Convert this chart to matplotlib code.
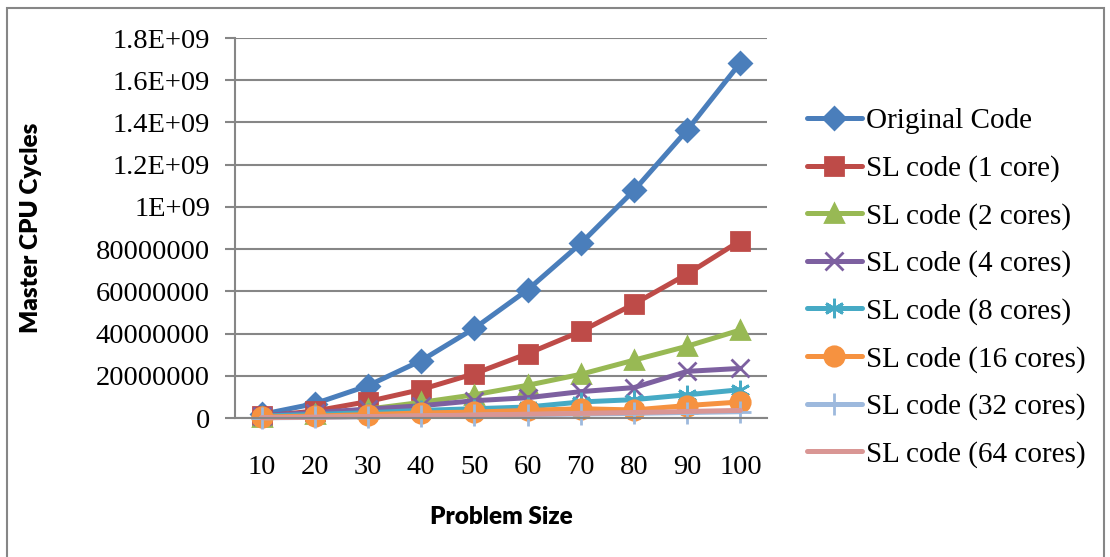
import matplotlib
matplotlib.use('Agg')
from matplotlib import pyplot
from matplotlib.patches import Rectangle

# данные
sizes = [10, 20, 30, 40, 50, 60, 70, 80, 90, 100]
original = [1.7e7, 6.8e7, 1.53e8, 2.72e8, 4.25e8, 6.07e8, 8.27e8, 1.078e9, 1.364e9, 1.683e9]
sl_1 = [8e6, 3.3e7, 7.8e7, 1.35e8, 2.1e8, 3.05e8, 4.1e8, 5.4e8, 6.82e8, 8.4e8]
sl_2 = [5e6, 1.8e7, 4.2e7, 7.4e7, 1.1e8, 1.55e8, 2.07e8, 2.74e8, 3.4e8, 4.17e8]
sl_4 = [1.1e7, 2.6e7, 4.2e7, 5.8e7, 8.2e7, 9.6e7, 1.25e8, 1.44e8, 2.21e8, 2.35e8]
sl_8 = [9e6, 1.7e7, 2.5e7, 3.6e7, 4.4e7, 5.2e7, 7.6e7, 8.7e7, 1.1e8, 1.34e8]
sl_16 = [5e6, 9e6, 1.6e7, 2.4e7, 2.8e7, 3.6e7, 4.4e7, 3.8e7, 5.9e7, 7.6e7]
sl_32 = [1e6, 3e6, 6e6, 9e6, 1.3e7, 1.6e7, 1.9e7, 2.2e7, 2.6e7, 3.0e7]
sl_64 = [1.5e6, 4e6, 7e6, 1e7, 1.4e7, 1.8e7, 2.2e7, 2.6e7, 3.1e7, 3.6e7]

series = [original, sl_1, sl_2, sl_4, sl_8, sl_16, sl_32, sl_64]
labels = ['Original Code', 'SL code (1 core)', 'SL code (2 cores)', 'SL code (4 cores)',
          'SL code (8 cores)', 'SL code (16 cores)', 'SL code (32 cores)', 'SL code (64 cores)']
colors = ['#4A7EBB', '#BE4B48', '#98B954', '#7D60A0', '#46AAC5', '#F69240', '#9DB9DD', '#D99694']
markers = ['D', 's', '^', 'x', (6, 2, 0), 'o', '+', 'None']
msizes = [11, 13, 13, 13, 14, 14, 16, 0]

y_ticks = [0, 2e8, 4e8, 6e8, 8e8, 1e9, 1.2e9, 1.4e9, 1.6e9, 1.8e9]
y_labels = ['0', '20000000', '40000000', '60000000', '80000000',
            '1E+09', '1.2E+09', '1.4E+09', '1.6E+09', '1.8E+09']

W, H = 1110, 557
fig = pyplot.figure(figsize=(W / 100, H / 100), dpi=100)
ax = fig.add_axes([235 / W, (H - 418) / H, 532 / W, 380 / H])

grid_c = '#868686'
x = list(range(len(sizes)))
for vals, lab, c, m, ms in zip(series, labels, colors, markers, msizes):
    ax.plot(x, vals, color=c, linewidth=3.6, marker=m, markersize=ms,
            markeredgecolor=c, markerfacecolor=c, markeredgewidth=2,
            label=lab, solid_capstyle='round', clip_on=False)

ax.set_xlim(-0.5, len(sizes) - 0.5)
ax.set_ylim(0, 1.8e9)
ax.set_xticks(x)
ax.set_xticklabels([str(s) for s in sizes], family='Liberation Serif', fontsize=20.5)
ax.set_yticks(y_ticks)
ax.set_yticklabels(y_labels, family='Liberation Serif', fontsize=20.5)
ax.tick_params(axis='x', length=0, pad=27)
ax.tick_params(axis='y', length=7, width=1.5, color=grid_c, pad=11)

ax.grid(axis='y', color=grid_c, linewidth=1.5)
ax.set_axisbelow(True)
for s in ['top', 'right']:
    ax.spines[s].set_visible(False)
for s in ['left', 'bottom']:
    ax.spines[s].set_color(grid_c)
    ax.spines[s].set_linewidth(1.5)

ax.set_ylabel('Master CPU Cycles', family='Lato', fontweight='heavy', fontsize=17.5)
ax.set_xlabel('Problem Size', family='Lato', fontweight='heavy', fontsize=17.5)
ax.yaxis.set_label_coords((42 - 235) / 532, 0.5)
ax.xaxis.set_label_coords((501 - 235) / 532, -(506 - 418) / 380)

ax.legend(loc='center left', bbox_to_anchor=(795 / W, 1 - 288 / H), bbox_transform=fig.transFigure,
          frameon=False, prop={'family': 'Liberation Serif', 'size': 21},
          handlelength=1.9, handletextpad=0.15, labelspacing=0.71, borderaxespad=0)

# рамка вокруг всей диаграммы
fig.patches.append(Rectangle((7 / W, -0.05), (1104 - 7) / W, 1.05 - 8 / H,
                             transform=fig.transFigure, fill=False,
                             edgecolor=grid_c, linewidth=1.5))

fig.savefig('out.png', dpi=100)
